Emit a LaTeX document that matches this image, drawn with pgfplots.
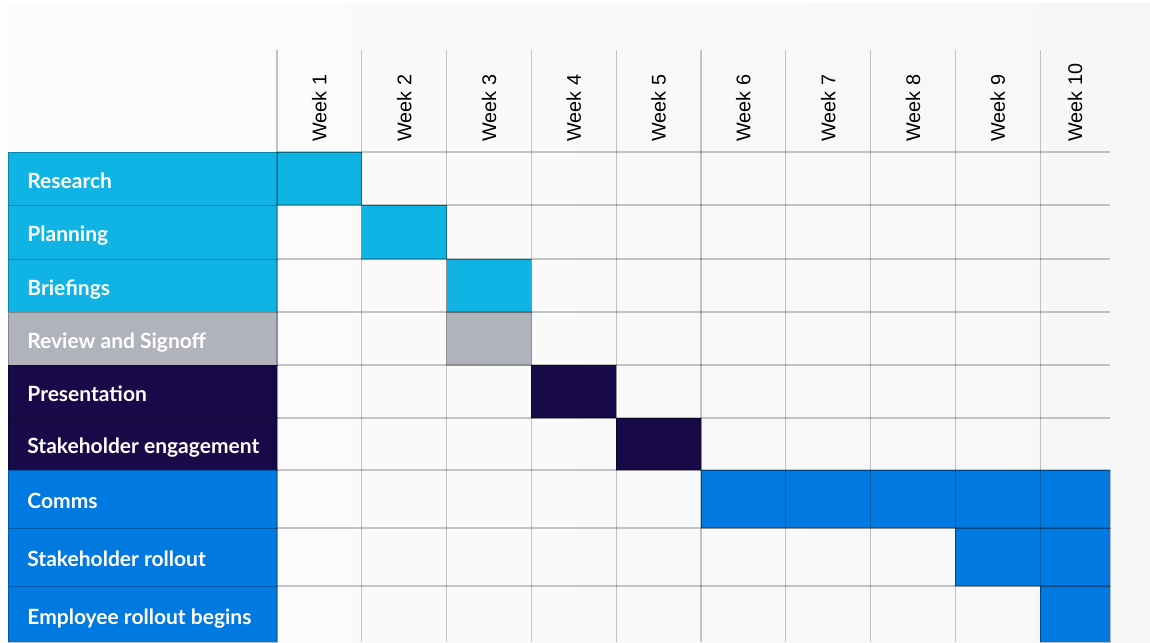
\documentclass[border=0pt]{standalone}
\usepackage{pgfplots}
\pgfplotsset{compat=1.18}
\usepackage{fontspec}
\setmainfont{Liberation Sans}
\newfontfamily\labfont{Lato}
\definecolor{cyanbar}{HTML}{10B4E4}
\definecolor{graybar}{HTML}{B1B3BC}
\definecolor{navybar}{HTML}{180A48}
\definecolor{bluebar}{HTML}{0079E0}
\definecolor{bgL}{HTML}{FCFCFC}
\definecolor{bgR}{HTML}{F6F7F8}
\tikzset{
  task/.style={draw=black, draw opacity=0.25, line width=0.5pt},
  lab/.style={anchor=base west, inner sep=0pt, text=white, font=\labfont\bfseries\fontsize{10.5}{12}\selectfont},
  wk/.style={rotate=90, anchor=west, inner sep=0pt, font=\fontsize{9.9}{11}\selectfont},
  gridl/.style={black, opacity=0.22, line width=0.6pt},
}
\begin{document}
\begin{tikzpicture}
\begin{axis}[
  scale only axis, width=575pt, height=321pt,
  xmin=-3.2665, xmax=10.2948, ymin=0, ymax=642, y dir=reverse,
  axis lines=none, ticks=none, clip=false,
]
% full-size frame (invisible) so that the picture keeps the axis size
\path (rel axis cs:0,0) rectangle (rel axis cs:1,1);
% background
\addplot[draw=none, left color=bgL, right color=bgR] coordinates {(-3.184,3) (10.2948,3) (10.2948,642) (-3.184,642)} --cycle;

% label column (x from -3.172 to 0), rows in pixel units
\addplot[task, fill=cyanbar] coordinates {(-3.172,152) (0,152) (0,205) (-3.172,205)} --cycle;
\addplot[task, fill=cyanbar] coordinates {(-3.172,205) (0,205) (0,259) (-3.172,259)} --cycle;
\addplot[task, fill=cyanbar] coordinates {(-3.172,259) (0,259) (0,312) (-3.172,312)} --cycle;
\addplot[task, fill=graybar] coordinates {(-3.172,312) (0,312) (0,365) (-3.172,365)} --cycle;
\addplot[task, fill=navybar] coordinates {(-3.172,365) (0,365) (0,418) (-3.172,418)} --cycle;
\addplot[task, fill=navybar] coordinates {(-3.172,418) (0,418) (0,470) (-3.172,470)} --cycle;
\addplot[task, fill=bluebar] coordinates {(-3.172,470) (0,470) (0,528) (-3.172,528)} --cycle;
\addplot[task, fill=bluebar] coordinates {(-3.172,528) (0,528) (0,586) (-3.172,586)} --cycle;
\addplot[task, fill=bluebar] coordinates {(-3.172,586) (0,586) (0,642) (-3.172,642)} --cycle;

% task bars (start week, end week)
\addplot[task, fill=cyanbar] coordinates {(0,152) (1,152) (1,205) (0,205)} --cycle;
\addplot[task, fill=cyanbar] coordinates {(1,205) (2,205) (2,259) (1,259)} --cycle;
\addplot[task, fill=cyanbar] coordinates {(2,259) (3,259) (3,312) (2,312)} --cycle;
\addplot[task, fill=graybar] coordinates {(2,312) (3,312) (3,365) (2,365)} --cycle;
\addplot[task, fill=navybar] coordinates {(3,365) (4,365) (4,418) (3,418)} --cycle;
\addplot[task, fill=navybar] coordinates {(4,418) (5,418) (5,470) (4,470)} --cycle;
\addplot[task, fill=bluebar] coordinates {(5,470) (9.823,470) (9.823,528) (5,528)} --cycle;
\addplot[task, fill=bluebar] coordinates {(8,528) (9.823,528) (9.823,586) (8,586)} --cycle;
\addplot[task, fill=bluebar] coordinates {(9,586) (9.823,586) (9.823,642) (9,642)} --cycle;

% grid
\foreach \y in {152,205,259,312,365,418,470,528,586} {
  \edef\tmp{\noexpand\draw[gridl] (axis cs:0,\y) -- (axis cs:9.823,\y);}\tmp
}
\foreach \x in {0,1,...,9} {
  \edef\tmp{\noexpand\draw[gridl] (axis cs:\x,50) -- (axis cs:\x,642);}\tmp
}

% week headers
\foreach \i in {1,...,9} {
  \edef\tmp{\noexpand\node[wk] at (axis cs:\i-0.5,142) {Week \i};}\tmp
}
\node[wk] at (axis cs:9.41,142) {Week 10};

% row labels
\node[lab] at (axis cs:-2.948,188) {Research};
\node[lab] at (axis cs:-2.948,241.5) {Planning};
\node[lab] at (axis cs:-2.948,295) {Briefings};
\node[lab] at (axis cs:-2.948,348) {Review and Signoff};
\node[lab] at (axis cs:-2.948,401) {Presentation};
\node[lab] at (axis cs:-2.948,453.5) {Stakeholder engagement};
\node[lab] at (axis cs:-2.948,508.5) {Comms};
\node[lab] at (axis cs:-2.948,566.5) {Stakeholder rollout};
\node[lab] at (axis cs:-2.948,624.5) {Employee rollout begins};
\end{axis}
\end{tikzpicture}
\end{document}
